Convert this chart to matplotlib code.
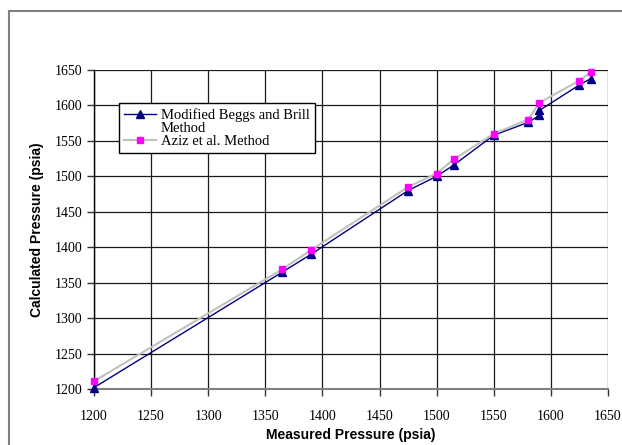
import matplotlib
matplotlib.use('Agg')
import matplotlib.pyplot as plt
import matplotlib.patches as mpatches
from matplotlib.lines import Line2D

# Data
measured_beggs = [1200, 1365, 1390, 1475, 1500, 1515, 1550, 1580, 1590, 1590, 1625, 1635]
calc_beggs = [1202, 1365, 1390, 1480, 1500, 1516, 1558, 1576, 1586, 1593, 1629, 1638]
measured_aziz = [1200, 1365, 1390, 1475, 1500, 1515, 1550, 1580, 1590, 1625, 1635]
calc_aziz = [1211, 1369, 1396, 1485, 1504, 1524, 1560, 1580, 1604, 1635, 1647]
ticks = list(range(1200, 1651, 50))

serif = 'Liberation Serif'
sans = 'Liberation Sans'

fig = plt.figure(figsize=(6.22, 4.45), dpi=100)
ax = fig.add_axes([0.151, 0.1258, 0.8265, 0.7169])

# outer chart border
fig.patches.append(mpatches.Rectangle((0.0145, -0.1), 1.2, 1.075, transform=fig.transFigure,
                                      fill=False, edgecolor='#808080', linewidth=1.5))

ax.plot(measured_beggs, calc_beggs, color='#000080', linewidth=1.0, marker='^',
        markersize=6, markerfacecolor='#000080', markeredgecolor='#000080', clip_on=False, zorder=3)
ax.plot(measured_aziz, calc_aziz, color='#c0c0c0', linewidth=1.5, marker='s',
        markersize=4, markerfacecolor='#ff00ff', markeredgecolor='#ff00ff', clip_on=False, zorder=4)

ax.set_xlim(1200, 1650)
ax.set_ylim(1200, 1650)
ax.set_xticks(ticks)
ax.set_yticks(ticks)
ax.grid(True, color='#1a1a1a', linewidth=0.9)
ax.set_axisbelow(True)

for s in ['top', 'right']:
    ax.spines[s].set_visible(False)
ax.spines['left'].set_color('black')
ax.spines['left'].set_linewidth(1.0)
ax.spines['bottom'].set_color('#808080')
ax.spines['bottom'].set_linewidth(1.5)

ax.tick_params(axis='both', direction='out', length=5, width=1, color='#333333',
               labelsize=10)
ax.tick_params(axis='y', pad=3)
ax.tick_params(axis='x', pad=10)
for lab in ax.get_xticklabels() + ax.get_yticklabels():
    lab.set_fontfamily(serif)

ax.set_xlabel('Measured Pressure (psia)', fontfamily=sans, fontweight='bold', fontsize=10, labelpad=4)
ax.set_ylabel('Calculated Pressure (psia)', fontfamily=sans, fontweight='bold', fontsize=10, labelpad=8)

handles = [
    Line2D([], [], color='#000080', linewidth=1.0, marker='^', markersize=6,
           markerfacecolor='#000080', markeredgecolor='#000080'),
    Line2D([], [], linestyle='none'),
    Line2D([], [], color='#c0c0c0', linewidth=1.5, marker='s', markersize=4,
           markerfacecolor='#ff00ff', markeredgecolor='#ff00ff'),
]
labels = ['Modified Beggs and Brill', 'Method', 'Aziz et al. Method']
leg = ax.legend(handles, labels, loc='upper left', bbox_to_anchor=(119 / 622, 1 - 103 / 445),
                bbox_transform=fig.transFigure, prop={'family': serif, 'size': 10.5},
                frameon=True, fancybox=False, edgecolor='black', framealpha=1,
                labelspacing=0.0, handlelength=2.2, handletextpad=0.3,
                borderpad=0.35, borderaxespad=0)
leg.get_frame().set_linewidth(1.0)

fig.savefig('out.png', dpi=100)
